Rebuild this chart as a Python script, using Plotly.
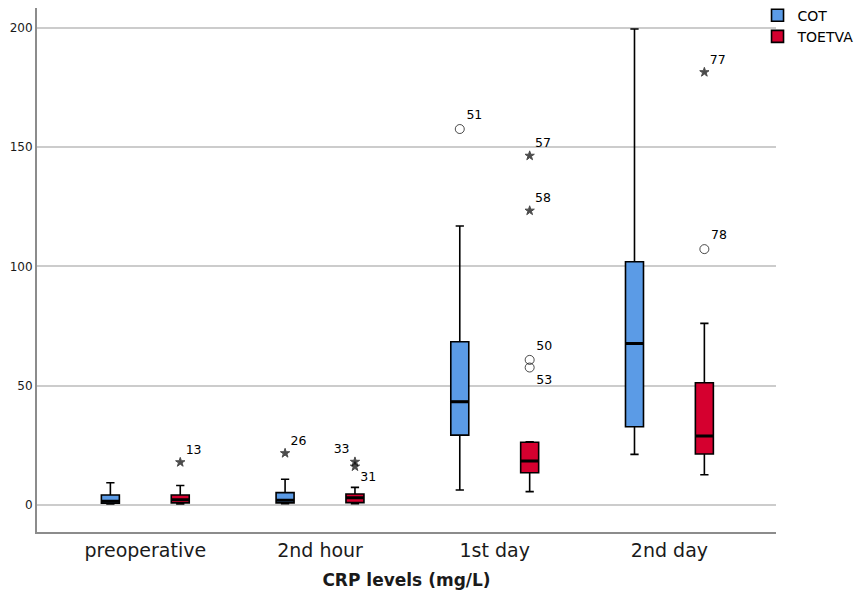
import numpy as np
import plotly.graph_objs as go

categories = ["preoperative", "2nd hour", "1st day", "2nd day"]

# COT box statistics (mg/L)
cot_lower = [0.5, 0.6, 6.3, 21.2]
cot_q1 = [0.8, 0.9, 29.3, 32.8]
cot_median = [1.6, 2.0, 43.3, 67.7]
cot_q3 = [4.2, 5.2, 68.4, 101.9]
cot_upper = [9.3, 10.8, 116.9, 199.4]

# TOETVA box statistics (mg/L)
toetva_lower = [0.5, 0.6, 5.6, 12.7]
toetva_q1 = [0.9, 1.0, 13.5, 21.4]
toetva_median = [2.2, 3.0, 18.4, 28.9]
toetva_q3 = [4.2, 4.6, 26.3, 51.2]
toetva_upper = [8.2, 7.4, 26.5, 76.1]

# outliers: category index, value, case label, kind
cot_out_cat = [1, 2]
cot_out_val = [21.7, 157.5]
cot_out_lab = ["26", "51"]
cot_out_kind = ["extreme", "mild"]

toetva_out_cat = [0, 1, 1, 2, 2, 2, 2, 3, 3]
toetva_out_val = [17.9, 18.1, 16.1, 146.3, 123.3, 60.8, 57.6, 181.3, 107.2]
toetva_out_lab = ["13", "33", "31", "57", "58", "50", "53", "77", "78"]
toetva_out_kind = ["extreme", "extreme", "extreme", "extreme", "extreme",
                   "mild", "mild", "extreme", "mild"]

BLUE = '#5b9be6'
RED = '#d5002f'
OFFSET = 0.2
BOXW = 0.103

fig = go.Figure()

def add_group(name, color, shift, lower, q1, med, q3, upper,
              out_cat, out_val, out_lab, out_kind):
    xs = np.arange(len(categories)) + shift
    fig.add_trace(go.Box(
        name=name, x=xs, q1=q1, median=med, q3=q3,
        lowerfence=lower, upperfence=upper,
        width=BOXW, whiskerwidth=0.46, boxpoints=False,
        fillcolor=color, line=dict(color='black', width=1.6),
        hoverinfo='skip'
    ))
    # thicker median bar
    fig.add_trace(go.Box(
        x=xs, q1=med, median=med, q3=med, lowerfence=med, upperfence=med,
        width=BOXW, whiskerwidth=0, boxpoints=False,
        fillcolor='rgba(0,0,0,0)', line=dict(color='black', width=3),
        showlegend=False, hoverinfo='skip'
    ))
    ox = np.array(out_cat) + shift
    pos = []
    for lab in out_lab:
        if lab == "33":
            pos.append('top left')
        elif lab in ("31", "53"):
            pos.append('bottom right')
        else:
            pos.append('top right')
    syms = ['star' if k == "extreme" else 'circle-open' for k in out_kind]
    sizes = [7 if k == "extreme" else 9 for k in out_kind]
    fig.add_trace(go.Scatter(
        x=ox, y=out_val, mode='markers+text', text=out_lab,
        textposition=pos,
        textfont=dict(family='DejaVu Sans', size=12.5, color='black'),
        marker=dict(symbol=syms, size=sizes, color='black',
                    line=dict(color='black', width=1)),
        showlegend=False, hoverinfo='skip'
    ))

add_group("COT", BLUE, -OFFSET, cot_lower, cot_q1, cot_median, cot_q3,
          cot_upper, cot_out_cat, cot_out_val, cot_out_lab, cot_out_kind)
add_group("TOETVA", RED, OFFSET, toetva_lower, toetva_q1, toetva_median,
          toetva_q3, toetva_upper, toetva_out_cat, toetva_out_val,
          toetva_out_lab, toetva_out_kind)

# page body adds an 8px margin, so the figure is kept 8px smaller
fig.update_layout(
    width=856, height=595,
    margin=dict(l=29, r=88, t=0, b=71, autoexpand=False),
    paper_bgcolor='white', plot_bgcolor='white',
    boxmode='overlay',
    font=dict(family='DejaVu Sans', color='#1a1a1a'),
    legend=dict(x=0.975, y=1.016, xanchor='left', yanchor='top',
                font=dict(size=14, color='black'),
                bgcolor='rgba(0,0,0,0)', tracegroupgap=0,
                itemwidth=30),
    xaxis=dict(
        range=[-0.62, 3.61], tickvals=list(range(len(categories))),
        ticktext=categories, tickfont=dict(size=19, color='#1a1a1a'),
        showgrid=False, zeroline=False, showline=True, automargin=False,
        linecolor='#8c8c8c', linewidth=2,
        title=dict(text='<b>CRP levels (mg/L)</b>',
                   font=dict(size=17, color='#1a1a1a'), standoff=14)
    ),
    yaxis=dict(
        range=[-11.3, 208.2], tickvals=[0, 50, 100, 150, 200],
        tickfont=dict(size=12, color='#1a1a1a'), automargin=False,
        showgrid=True, gridcolor='#cccccc', gridwidth=1.5,
        zeroline=False, showline=True, linecolor='#8c8c8c', linewidth=2
    )
)

fig.write_html("out.html")
